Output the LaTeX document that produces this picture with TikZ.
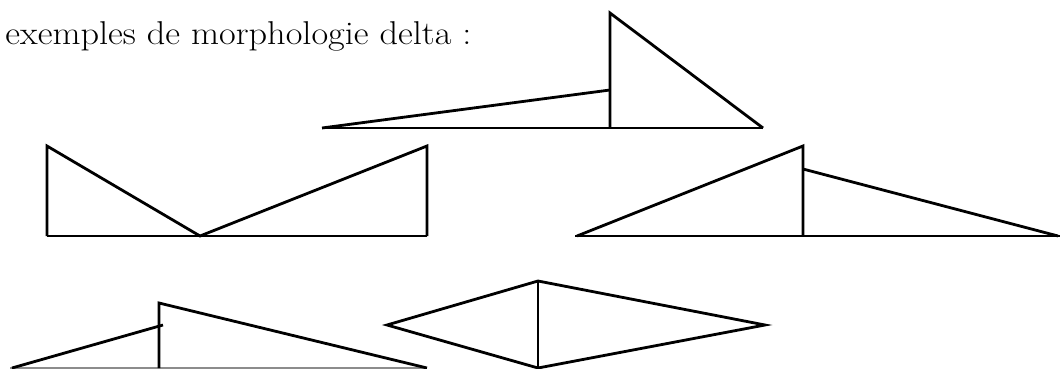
\documentclass[tikz,border=0pt]{standalone}
\usepackage{tikz}

\tikzset{
  delta/.style={line width=1.4pt, line join=miter},
  socle/.style={line width=1.1pt}
}

\begin{document}
\begin{tikzpicture}[x=0.5pt, y=-0.5pt]
        \useasboundingbox (0,0) rectangle (1060,369);

        % Titre
        \node[anchor=base west, inner sep=0pt, xscale=1.1, font=\fontsize{16.5}{20}\selectfont] (titre) at (5,45) {exemples de morphologie delta :};

        % Forme 1 (haut)
        \draw[socle] (322,128) -- (763,128);
        \draw[delta] (763,128) -- (610,13) -- (610,128);
        \draw[delta] (322,128) -- (610,90);

        % Forme 2 (milieu gauche)
        \draw[socle] (47,236) -- (427,236);
        \draw[delta] (47,236) -- (47,146) -- (200,236) -- (427,146) -- (427,236);

        % Forme 3 (milieu droite)
        \draw[socle] (575,236) -- (1060,236);
        \draw[delta] (577,236) -- (803,146) -- (803,236);
        \draw[delta] (803,169) -- (1058,236);

        % Forme 4 (bas gauche)
        \draw[socle, black!45] (10,368) -- (427,368);
        \draw[delta] (159,368) -- (159,303) -- (427,368);
        \draw[delta] (12,368) -- (163,325);

        % Forme 5 (losange)
        \draw[delta] (387,325) -- (538,281) -- (765,325) -- (538,368) -- cycle;
        \draw[delta] (538,281) -- (538,368);
\end{tikzpicture}
\end{document}
